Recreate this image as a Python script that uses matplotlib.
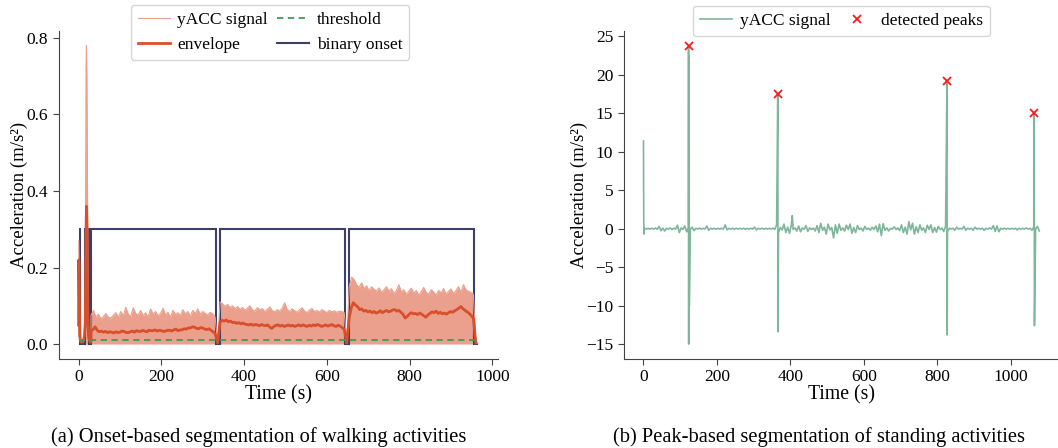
import numpy as np
import matplotlib
matplotlib.use("Agg")
import matplotlib.pyplot as plt

plt.rcParams['font.family'] = ['Liberation Serif', 'DejaVu Serif']

# ---------------- (a) walking: onset-based segmentation ----------------
# start-up burst (s, m/s^2)
early_t = [0, 0.5, 1, 2, 3, 4, 6, 9, 12, 14, 16, 17, 18, 19, 20, 21, 22, 23, 24, 26, 28, 30]
early_sig = [0.02, 0.27, 0.22, 0.1, 0.03, 0.01, 0.005, 0.005, 0.01, 0.02, 0.1, 0.45, 0.72, 0.78, 0.7, 0.5, 0.3, 0.15, 0.05, 0.01, 0.005, 0.005]
early_env = [0.05, 0.22, 0.2, 0.1, 0.03, 0.01, 0.005, 0.005, 0.01, 0.02, 0.05, 0.12, 0.28, 0.36, 0.32, 0.2, 0.1, 0.05, 0.02, 0.01, 0.005, 0.005]

# peak height of the rectified signal, one value every 6 s inside each walk
seg1_sig = [0.075, 0.088, 0.07, 0.078, 0.066, 0.072, 0.08, 0.07, 0.068, 0.075,
            0.082, 0.07, 0.085, 0.074, 0.096, 0.078, 0.072, 0.095, 0.08, 0.076,
            0.088, 0.074, 0.082, 0.07, 0.092, 0.078, 0.085, 0.074, 0.08, 0.094,
            0.076, 0.083, 0.07, 0.088, 0.078, 0.082, 0.075, 0.09, 0.079, 0.085,
            0.073, 0.088, 0.08, 0.092, 0.078, 0.085, 0.08, 0.076, 0.083, 0.079, 0.07]
seg2_sig = [0.11, 0.105, 0.098, 0.104, 0.095, 0.1, 0.092, 0.098, 0.09, 0.096,
            0.088, 0.094, 0.1, 0.09, 0.086, 0.095, 0.089, 0.093, 0.085, 0.091,
            0.097, 0.088, 0.084, 0.09, 0.086, 0.094, 0.108, 0.09, 0.085, 0.092,
            0.087, 0.083, 0.09, 0.095, 0.086, 0.082, 0.089, 0.093, 0.085, 0.088,
            0.083, 0.09, 0.086, 0.082, 0.088, 0.084, 0.087, 0.083, 0.086, 0.085, 0.082]
seg3_sig = [0.15, 0.175, 0.168, 0.155, 0.148, 0.16, 0.145, 0.152, 0.14, 0.15,
            0.143, 0.138, 0.147, 0.135, 0.142, 0.15, 0.138, 0.145, 0.132, 0.14,
            0.155, 0.136, 0.142, 0.13, 0.138, 0.146, 0.133, 0.14, 0.128, 0.137,
            0.148, 0.135, 0.13, 0.142, 0.136, 0.128, 0.14, 0.134, 0.145, 0.13,
            0.138, 0.144, 0.132, 0.14, 0.15, 0.136, 0.155, 0.142, 0.138, 0.135, 0.13]

# envelope, one value every 5 s inside each walk
seg1_env = [0.034, 0.038, 0.045, 0.036, 0.032, 0.034, 0.031, 0.033, 0.03, 0.032, 0.031, 0.029,
            0.032, 0.03, 0.031, 0.034, 0.033, 0.03, 0.03, 0.032, 0.034, 0.031, 0.035, 0.033,
            0.033, 0.036, 0.034, 0.032, 0.036, 0.035, 0.035, 0.037, 0.034, 0.036, 0.035, 0.033,
            0.034, 0.036, 0.036, 0.034, 0.037, 0.039, 0.035, 0.037, 0.037, 0.04, 0.039, 0.042,
            0.042, 0.045, 0.044, 0.041, 0.04, 0.043, 0.042, 0.039, 0.038, 0.04, 0.036, 0.032, 0.027]
seg2_env = [0.058, 0.062, 0.06, 0.063, 0.058, 0.06, 0.056, 0.057, 0.054, 0.056, 0.053, 0.055,
            0.052, 0.051, 0.05, 0.052, 0.049, 0.051, 0.05, 0.048, 0.051, 0.049, 0.048, 0.05,
            0.044, 0.041, 0.046, 0.049, 0.05, 0.047, 0.049, 0.046, 0.048, 0.05, 0.047, 0.049,
            0.046, 0.048, 0.05, 0.047, 0.05, 0.048, 0.046, 0.049, 0.047, 0.05, 0.048, 0.051,
            0.049, 0.046, 0.048, 0.05, 0.047, 0.049, 0.051, 0.048, 0.046, 0.049, 0.047, 0.043, 0.038]
seg3_env = [0.07, 0.095, 0.108, 0.102, 0.098, 0.09, 0.092, 0.086, 0.088, 0.084, 0.086, 0.082,
            0.085, 0.081, 0.083, 0.087, 0.082, 0.085, 0.088, 0.084, 0.086, 0.089, 0.09, 0.086,
            0.088, 0.083, 0.078, 0.068, 0.072, 0.078, 0.082, 0.079, 0.08, 0.077, 0.081, 0.078,
            0.074, 0.07, 0.076, 0.08, 0.084, 0.082, 0.086, 0.08, 0.083, 0.079, 0.081, 0.078,
            0.082, 0.085, 0.083, 0.087, 0.09, 0.094, 0.098, 0.092, 0.088, 0.084, 0.08, 0.074, 0.068]

seg_starts = [30, 342, 654]
seg_ends = [330, 642, 954]
rest_t = [336, 648, 960, 965]
rest_val = [0.003, 0.003, 0.003, 0.002]

threshold = 0.01
onset_edges = [0, 3, 15, 24, 30.5, 332, 342, 643, 653, 955, 965]
onset_levels = [0.3, 0, 0.3, 0, 0.3, 0, 0.3, 0, 0.3, 0]

# ---------------- (b) standing: peak-based segmentation ----------------
# background noise, upper / lower excursion in 10 s bins from 0 to 1075 s
noise_hi = [0.05, 0.05, 0.06, 0.1, 0.3, 0.08, 0.05, 0.1, 0.06, 0.45,
            0.1, 0.35, 0.08, 0.2, 0.05, 0.08, 0.05, 0.35, 0.05, 0.06,
            0.05, 0.05, 0.5, 0.05, 0.06, 0.05, 0.05, 0.06, 0.05, 0.05,
            0.2, 0.05, 0.06, 0.05, 0.05, 0.08, 0.5, 0.15, 0.6, 0.2,
            0.45, 0.1, 0.35, 0.1, 0.4, 0.12, 0.08, 0.4, 0.7, 0.2,
            0.6, 0.15, 0.5, 0.6, 0.1, 0.45, 0.6, 0.15, 0.4, 0.08,
            0.3, 0.06, 0.2, 0.35, 0.6, 0.65, 0.1, 0.05, 0.25, 0.1,
            0.5, 0.2, 0.9, 0.7, 0.25, 0.5, 0.1, 0.45, 0.5, 0.15,
            0.3, 0.1, 0.3, 0.06, 0.05, 0.2, 0.05, 0.3, 0.06, 0.05,
            0.2, 0.05, 0.06, 0.05, 0.1, 0.4, 0.35, 0.06, 0.05, 0.05,
            0.05, 0.06, 0.05, 0.05, 0.1, 0.05, 0.2, 0.3]
noise_lo = [-0.05, -0.05, -0.06, -0.08, -0.25, -0.3, -0.05, -0.1, -0.06, -0.5,
            -0.1, -0.4, -0.1, -0.25, -0.05, -0.06, -0.05, -0.2, -0.05, -0.08,
            -0.05, -0.05, -0.15, -0.05, -0.06, -0.05, -0.05, -0.08, -0.05, -0.05,
            -0.15, -0.05, -0.06, -0.05, -0.05, -0.1, -0.5, -0.15, -0.5, -0.6,
            -0.1, -0.3, -0.4, -0.08, -0.35, -0.1, -0.3, -0.5, -0.2, -0.7,
            -0.15, -1.2, -0.6, -0.2, -0.3, -0.1, -0.6, -0.5, -0.1, -0.3,
            -0.08, -0.2, -0.1, -0.4, -0.9, -0.2, -0.3, -0.05, -0.1, -0.25,
            -0.5, -0.7, -0.15, -0.7, -0.5, -0.2, -0.5, -0.1, -0.5, -0.45,
            -0.1, -0.35, -0.4, -0.05, -0.2, -0.06, -0.05, -0.2, -0.05, -0.2,
            -0.06, -0.05, -0.2, -0.05, -0.06, -0.35, -0.4, -0.05, -0.05, -0.06,
            -0.05, -0.15, -0.05, -0.05, -0.06, -0.2, -0.05, -0.3]
# large transients (jumps between activities)
spike_t = [0.0, 0.8, 1.6, 122.7, 123.1, 123.5, 123.9, 124.3, 124.7,
           365.6, 366.4, 405.0, 826.2, 826.8, 1063.6, 1064.4]
spike_v = [11.4, 0.8, -0.7, 23.7, -15.0, 22.5, -14.6, 20.0, -10.0,
           17.5, -13.4, 1.7, 19.2, -13.8, 15.0, -12.6]
peak_t = [122.7, 365.6, 826.2, 1063.6]
peak_v = [23.7, 17.5, 19.2, 15.0]

# ---------------- assemble series ----------------
sig_t, sig_a, env_t, env_a = list(early_t), list(early_sig), list(early_t), list(early_env)
for s, e, sv, ev, rt, rv in zip(seg_starts, seg_ends, [seg1_sig, seg2_sig, seg3_sig],
                                [seg1_env, seg2_env, seg3_env], rest_t, rest_val):
    sig_t += list(np.linspace(s, e, len(sv))) + [rt]
    sig_a += sv + [rv]
    env_t += list(np.linspace(s, e, len(ev))) + [rt]
    env_a += ev + [rv]
sig_t += [rest_t[-1]]
sig_a += [rest_val[-1]]

bins = np.arange(len(noise_hi)) * 10
b_t = np.concatenate([np.column_stack([bins + 2.5, bins + 7.5]).ravel(), spike_t])
b_v = np.concatenate([np.column_stack([noise_hi, noise_lo]).ravel(), spike_v])
order = np.argsort(b_t, kind='stable')
b_t, b_v = b_t[order], b_v[order]

# ---------------- figure ----------------
fig = plt.figure(figsize=(10.58, 4.48), dpi=100)
ax1 = fig.add_axes([0.0555, 0.1987, 0.415, 0.733])
ax2 = fig.add_axes([0.5895, 0.1987, 0.4115, 0.731])

c_sig, c_env, c_thr, c_bin = '#eaa08c', '#d94f2c', '#3d9b5c', '#3c3f66'
ax1.fill_between(sig_t, 0, sig_a, color=c_sig, lw=0)
ax1.plot(sig_t, sig_a, color=c_sig, lw=0.8, label='yACC signal')
ax1.plot(env_t, env_a, color=c_env, lw=2.0, label='envelope')
ax1.plot([sig_t[0], sig_t[-1]], [threshold, threshold], color=c_thr, lw=1.3,
         ls=(0, (3.5, 2.5)), label='threshold')
ax1.stairs(onset_levels, onset_edges, baseline=None, color=c_bin, lw=1.5, label='binary onset')
ax1.set_xticks([0, 200, 400, 600, 800, 1000])
ax1.set_yticks([0.0, 0.2, 0.4, 0.6, 0.8])
ax1.set_ylim(-0.039, 0.819)
ax1.set_xlim(-48, 1013)
ax1.legend(ncol=2, loc='upper center', bbox_to_anchor=(0.481, 1.078), borderaxespad=0,
           fontsize=12.5, columnspacing=0.5, handletextpad=0.45, handlelength=1.85)

ax2.plot(b_t, b_v, color='#7fb69b', lw=1.2, label='yACC signal')
ax2.plot(peak_t, peak_v, 'x', color='#ff1a1a', ms=6, mew=1.3, label='detected peaks')
ax2.set_xticks([0, 200, 400, 600, 800, 1000])
ax2.set_yticks([-15, -10, -5, 0, 5, 10, 15, 20, 25])
ax2.set_yticklabels(['\u221215', '\u221210', '\u22125', '0', '5', '10', '15', '20', '25'])
ax2.legend(ncol=2, loc='upper center', bbox_to_anchor=(0.5, 1.078), borderaxespad=0,
           fontsize=12.5, columnspacing=0.6, handletextpad=0.45, handlelength=1.85)

for ax in (ax1, ax2):
    for sp in ('top', 'right'):
        ax.spines[sp].set_visible(False)
    for sp in ('left', 'bottom'):
        ax.spines[sp].set_color('#444444')
    ax.tick_params(labelsize=12.5, colors='#444444', labelcolor='black', length=4)
    ax.set_xlabel('Time (s)', fontsize=14.2, labelpad=0)
    ax.set_ylabel('Acceleration (m/s²)', fontsize=13.5, labelpad=-1)

fig.text(259 / 1058, 11 / 448, '(a) Onset-based segmentation of walking activities',
         ha='center', va='center', fontsize=14.8)
fig.text(819 / 1058, 11 / 448, '(b) Peak-based segmentation of standing activities',
         ha='center', va='center', fontsize=14.8)

fig.savefig('out.png', dpi=100)
